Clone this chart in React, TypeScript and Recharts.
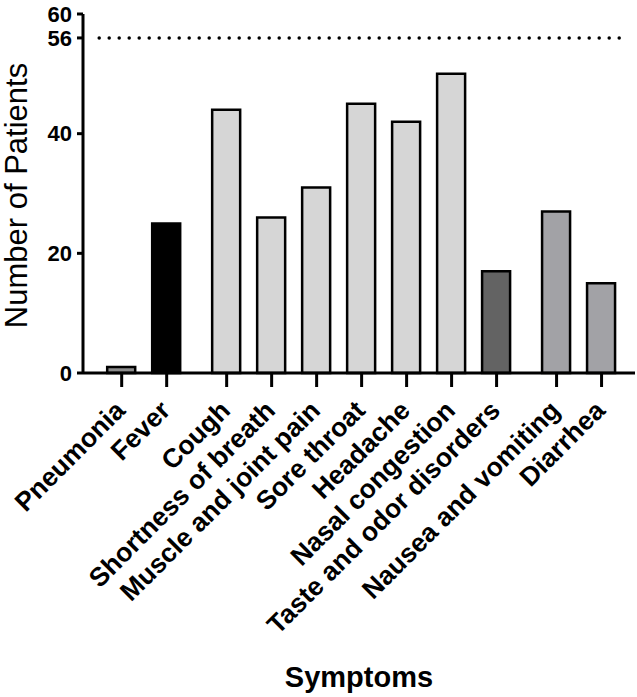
import React from 'react'
import {
  BarChart,
  Bar,
  Cell,
  XAxis,
  YAxis,
  ReferenceLine,
} from 'recharts'

// symptom groups (Prism leaves a small gap between groups)
const groups: string[][] = [
  ['Pneumonia', 'Fever'],
  [
    'Cough',
    'Shortness of breath',
    'Muscle and joint pain',
    'Sore throat',
    'Headache',
    'Nasal congestion',
    'Taste and odor disorders',
  ],
  ['Nausea and vomiting', 'Diarrhea'],
]

const patients: number[] = [1, 25, 44, 26, 31, 45, 42, 50, 17, 27, 15]
const yTicks: number[] = [0, 20, 40, 56, 60]
const totalPatients = 56

const fills: Record<string, string> = {
  Pneumonia: '#8c8c8c',
  Fever: '#000000',
  'Taste and odor disorders': '#636363',
  'Nausea and vomiting': '#a2a2a6',
  Diarrhea: '#a2a2a6',
}
const defaultFill = '#d6d6d6'

const GROUP_GAP = 1 / 3
const FONT = '"Liberation Sans", Arial, Helvetica, sans-serif'

const data = groups.flatMap((names, g) =>
  names.map((name) => ({ name, pos: 0, value: 0, g }))
)
data.forEach((d, i) => {
  d.pos = i + d.g * GROUP_GAP
  d.value = patients[i]
})
const positions = data.map((d) => d.pos)
const firstPos = positions[0]
const lastPos = positions[positions.length - 1]

const XTick = ({ x, y, payload }: any) => {
  const item = data.find((d) => Math.abs(d.pos - payload.value) < 1e-6)
  return (
    <g transform={`translate(${x + 5},${y + 23})`}>
      <text
        textAnchor="end"
        transform="rotate(-45)"
        fontSize={26.5}
        fontWeight="bold"
        fontFamily={FONT}
        fill="#000"
      >
        {item ? item.name : ''}
      </text>
    </g>
  )
}

export default function App() {
  return (
    <div style={{ position: 'absolute', left: 0, top: 0, background: '#fff' }}>
      <BarChart
        width={637}
        height={697}
        data={data}
        margin={{ top: 14, right: 2, left: 0, bottom: 0 }}
      >
        <XAxis
          type="number"
          dataKey="pos"
          domain={[-0.86, 11.41]}
          ticks={positions}
          interval={0}
          height={324}
          tickSize={14}
          axisLine={{ stroke: '#000', strokeWidth: 3 }}
          tickLine={{ stroke: '#000', strokeWidth: 3 }}
          tick={<XTick />}
          allowDataOverflow
          label={({ viewBox }: any) => (
            <text
              x={viewBox.x + viewBox.width / 2}
              y={687}
              textAnchor="middle"
              fontSize={29}
              fontWeight="bold"
              fontFamily={FONT}
              fill="#000"
            >
              Symptoms
            </text>
          )}
        />
        <YAxis
          domain={[0, 60]}
          ticks={yTicks}
          interval={0}
          width={83}
          tickSize={6}
          tickMargin={5}
          axisLine={{ stroke: '#000', strokeWidth: 3 }}
          tickLine={{ stroke: '#000', strokeWidth: 3 }}
          tick={{
            fontSize: 22,
            fontWeight: 'bold',
            fontFamily: FONT,
            fill: '#000',
          }}
          label={({ viewBox }: any) => {
            const cx = 27
            const cy = viewBox.y + viewBox.height / 2 + 2
            return (
              <text
                x={cx}
                y={cy}
                transform={`rotate(-90 ${cx} ${cy})`}
                textAnchor="middle"
                fontSize={31}
                fontFamily={FONT}
                fill="#000"
              >
                Number of Patients
              </text>
            )
          }}
        />
        <ReferenceLine
          segment={[
            { x: firstPos - 0.5, y: totalPatients },
            { x: lastPos + 0.5, y: totalPatients },
          ]}
          stroke="#000"
          strokeWidth={3.5}
          strokeDasharray="0 10"
          strokeLinecap="round"
        />
        <Bar
          dataKey="value"
          barSize={28}
          stroke="#000"
          strokeWidth={2.5}
          isAnimationActive={false}
        >
          {data.map((d) => (
            <Cell key={d.name} fill={fills[d.name] ?? defaultFill} />
          ))}
        </Bar>
      </BarChart>
    </div>
  )
}
